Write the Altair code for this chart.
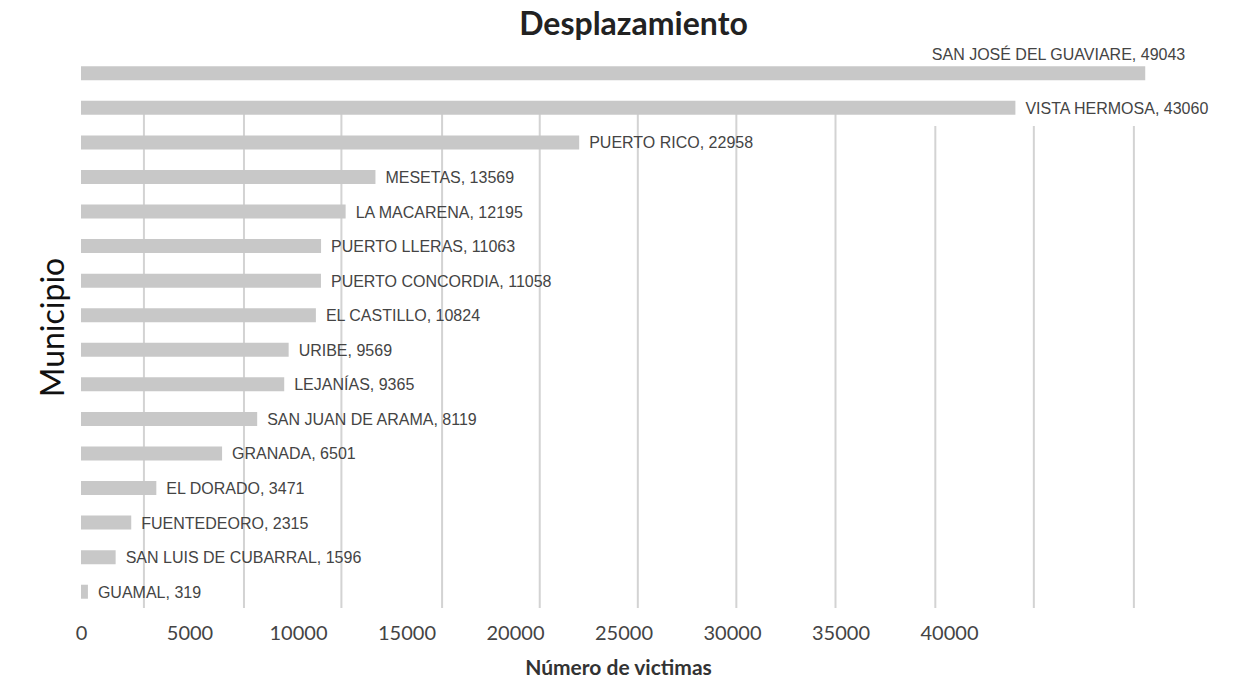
import altair as alt
import pandas as pd

# Displaced victims per municipality
municipios = [
    "SAN JOSÉ DEL GUAVIARE", "VISTA HERMOSA", "PUERTO RICO", "MESETAS",
    "LA MACARENA", "PUERTO LLERAS", "PUERTO CONCORDIA", "EL CASTILLO",
    "URIBE", "LEJANÍAS", "SAN JUAN DE ARAMA", "GRANADA", "EL DORADO",
    "FUENTEDEORO", "SAN LUIS DE CUBARRAL", "GUAMAL",
]
victimas = [49043, 43060, 22958, 13569, 12195, 11063, 11058, 10824,
            9569, 9365, 8119, 6501, 3471, 2315, 1596, 319]

# Axis tick labels and the vertical guide lines behind the bars
tick_values = [0, 5000, 10000, 15000, 20000, 25000, 30000, 35000, 40000]
grid_values = [2900, 7510, 12000, 16640, 21140, 25660, 30200, 34770,
               39370, 43910, 48520]

df = pd.DataFrame({"municipio": municipios, "victimas": victimas})
df["rank"] = range(1, len(df) + 1)
grid_df = pd.DataFrame({"g": grid_values})

W, H = 1085, 553
x_scale = alt.Scale(domain=[0, 50000], nice=False, zero=True)
y_scale = alt.Scale(paddingInner=0, paddingOuter=0)

x_axis = alt.Axis(
    values=tick_values, format="d", grid=False, ticks=False, domain=False,
    labelFont="Lato", labelFontSize=20, labelColor="#444444",
    labelPadding=14, labelFlush=False,
    title="Número de victimas", titleFont="Lato", titleFontSize=21,
    titleFontWeight="bold", titleColor="#333333",
    titleX=537, titleY=59, titleBaseline="middle", titleAlign="center",
)
y_axis = alt.Axis(
    labels=False, ticks=False, domain=False, grid=False,
    title="Municipio", titleFont="Lato", titleFontSize=32,
    titleFontWeight="normal", titleColor="#111111",
    titleBaseline="alphabetic", titlePadding=18, titleY=271,
)

base = alt.Chart(df)

grid_near = alt.Chart(grid_df).transform_filter("datum.g < 37000").mark_rule(
    color="#d3d3d3", strokeWidth=2
).encode(
    x=alt.X("g:Q", scale=x_scale, axis=x_axis),
    y=alt.value(56), y2=alt.value(552),
)
grid_far = alt.Chart(grid_df).transform_filter("datum.g >= 37000").mark_rule(
    color="#d3d3d3", strokeWidth=2
).encode(
    x=alt.X("g:Q", scale=x_scale),
    y=alt.value(70), y2=alt.value(552),
)

bars = base.mark_bar(color="#c8c8c8", size=14).encode(
    x=alt.X("victimas:Q", scale=x_scale, axis=x_axis),
    y=alt.Y("municipio:N", sort=None, scale=y_scale, axis=y_axis),
)

label_text = "datum.municipio + ', ' + datum.victimas"

labels_top = base.transform_filter("datum.rank == 1").transform_calculate(
    label=label_text
).mark_text(
    align="right", baseline="middle", dx=40, dy=-18,
    font="Liberation Sans", fontSize=16, color="#444444",
).encode(
    x=alt.X("victimas:Q", scale=x_scale),
    y=alt.Y("municipio:N", sort=None, scale=y_scale),
    text="label:N",
)

labels_rest = base.transform_filter("datum.rank > 1").transform_calculate(
    label=label_text
).mark_text(
    align="left", baseline="middle", dx=10, dy=1,
    font="Liberation Sans", fontSize=16, color="#444444",
).encode(
    x=alt.X("victimas:Q", scale=x_scale),
    y=alt.Y("municipio:N", sort=None, scale=y_scale),
    text="label:N",
)

chart = alt.layer(grid_near, grid_far, bars, labels_top, labels_rest).properties(
    width=W, height=H,
    background="white",
    title=alt.TitleParams(
        "Desplazamiento", font="Lato", fontSize=32, fontWeight="bold",
        color="#222222", anchor="middle", frame="group", dx=10, dy=38,
        baseline="alphabetic", offset=18,
    ),
    autosize=alt.AutoSizeParams(type="none"),
    padding={"left": 81, "top": 56, "right": 75, "bottom": 72},
).configure_view(strokeWidth=0)

chart.save("out.html", embed_options={"renderer": "svg", "actions": False})
